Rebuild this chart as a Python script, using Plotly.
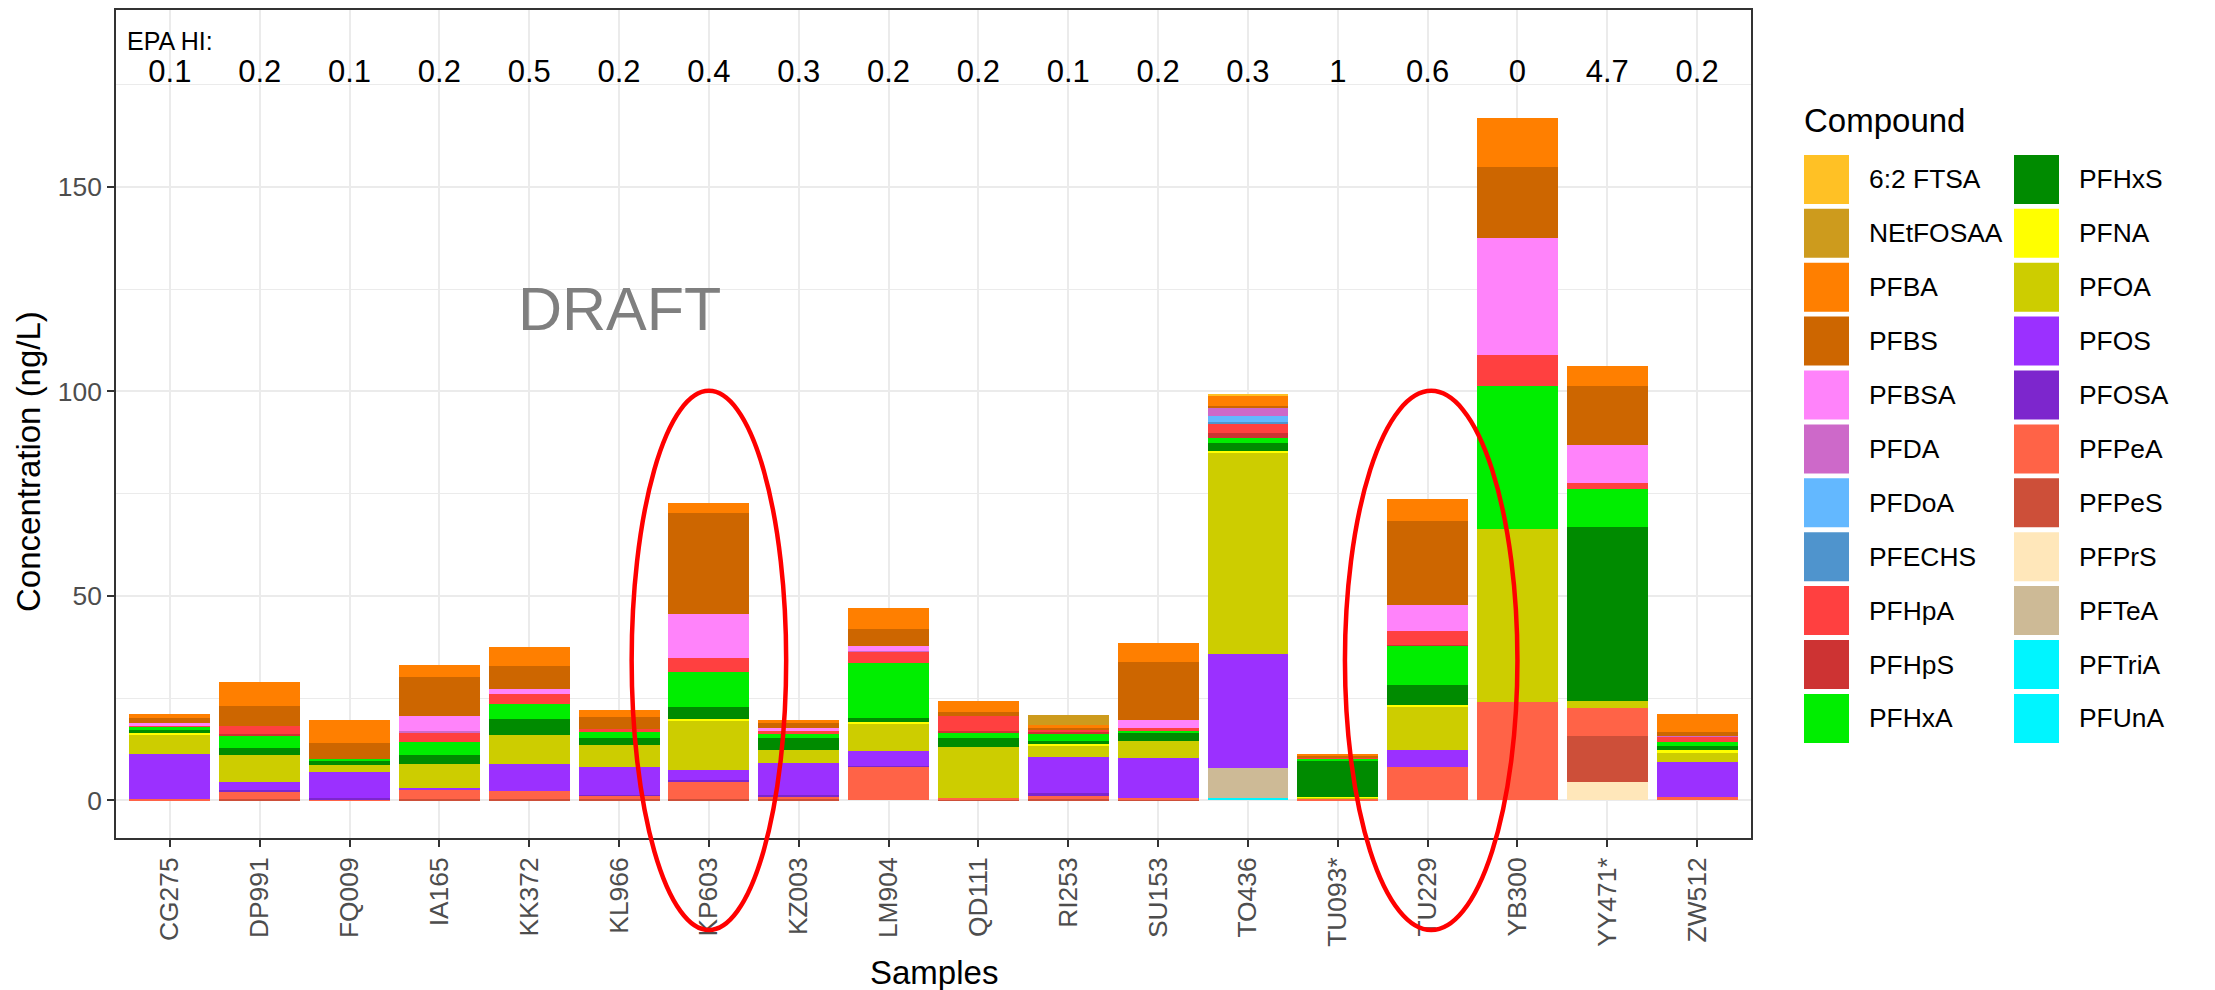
import plotly.graph_objects as go

# Samples (x categories) and the EPA hazard index printed above each bar
samples = ["CG275", "DP991", "FQ009", "IA165", "KK372", "KL966", "KP603", "KZ003", "LM904",
           "QD111", "RI253", "SU153", "TO436", "TU093*", "TU229", "YB300", "YY471*", "ZW512"]
hazard_index = ["0.1", "0.2", "0.1", "0.2", "0.5", "0.2", "0.4", "0.3", "0.2",
                "0.2", "0.1", "0.2", "0.3", "1", "0.6", "0", "4.7", "0.2"]

# Compound levels (legend order; first level sits on top of each stack) and fills
compounds = ["6:2 FTSA", "NEtFOSAA", "PFBA", "PFBS", "PFBSA", "PFDA", "PFDoA", "PFECHS",
             "PFHpA", "PFHpS", "PFHxA", "PFHxS", "PFNA", "PFOA", "PFOS", "PFOSA",
             "PFPeA", "PFPeS", "PFPrS", "PFTeA", "PFTriA", "PFUnA"]
colors = ["#FFC125", "#CD9B1D", "#FF7F00", "#CD6600", "#FF83FA", "#CD69C9", "#63B8FF", "#4F94CD",
          "#FF4040", "#CD3333", "#00EE00", "#008B00", "#FFFF00", "#CDCD00", "#9B30FF", "#7D26CD",
          "#FF6347", "#CD4F39", "#FFE7BA", "#CDBA96", "#00F5FF", "#00F5FF"]

# Concentrations (ng/L), one value per sample in the order of `samples`
ftsa_62  = [0, 0, 0, 0, 0, 0, 0, 0, 0, 0, 0, 0, 0.3, 0, 0, 0, 0, 0]
netfosaa = [0, 0, 0, 0, 0, 0, 0, 0, 0, 0, 2.4, 0, 0, 0, 0, 0, 0, 0]
pfba     = [0.8, 6.0, 5.8, 3.1, 4.6, 1.8, 2.5, 0.6, 5.2, 2.8, 0.8, 4.7, 2.5, 0.5, 5.2, 12.1, 4.9, 4.2]
pfbs     = [1.4, 4.8, 3.8, 9.4, 5.7, 2.9, 24.6, 1.4, 4.2, 0.9, 0.3, 14.0, 0.4, 0.3, 20.7, 17.3, 14.6, 1.05]
pfbsa    = [0.4, 0, 0, 3.8, 1.1, 0, 10.7, 0.65, 1.1, 0, 0, 2.0, 0, 0, 6.4, 28.6, 9.2, 0]
pfda     = [0, 0, 0, 0.5, 0, 0, 0, 0, 0.3, 0, 0, 0, 2.0, 0, 0, 0, 0, 0.25]
pfdoa    = [0, 0, 0, 0, 0, 0, 0, 0, 0, 0, 0, 0, 1.4, 0, 0, 0, 0, 0]
pfechs   = [0, 0, 0, 0, 0, 0, 0, 0, 0, 0, 0, 0, 0.6, 0, 0, 0, 0, 0]
pfhpa    = [0.5, 2.0, 0, 2.1, 2.6, 0.7, 3.4, 0.65, 2.7, 3.75, 0.65, 0.7, 2.3, 0.3, 3.2, 7.5, 1.6, 1.15]
pfhps    = [0, 0.3, 0, 0, 0, 0, 0, 0, 0, 0.3, 0.3, 0, 1.2, 0, 0.3, 0, 0, 0]
pfhxa    = [0.6, 3.0, 0.5, 3.2, 3.5, 1.4, 8.7, 1.1, 13.4, 1.3, 1.8, 0.65, 1.1, 0.4, 9.5, 35.1, 9.2, 1.05]
pfhxs    = [0.9, 1.7, 1.0, 2.1, 4.1, 1.7, 2.9, 2.9, 1.1, 2.2, 0.9, 1.8, 2.0, 8.9, 5.1, 0, 42.5, 1.0]
pfna     = [0.3, 0, 0, 0, 0, 0, 0.25, 0, 0.5, 0, 0.3, 0, 0.4, 0.3, 0.3, 0, 0, 0.65]
pfoa     = [4.7, 6.7, 1.6, 6.0, 7.0, 5.5, 12.2, 3.2, 6.6, 12.5, 2.8, 4.2, 49.1, 0.2, 10.5, 42.2, 1.8, 2.2]
pfos     = [11.1, 2.0, 6.5, 0.25, 6.6, 6.7, 2.45, 7.9, 3.5, 0, 8.8, 9.8, 28.1, 0, 4.2, 0, 0, 8.65]
pfosa    = [0, 0.3, 0.3, 0, 0, 0.3, 0.3, 0.3, 0.3, 0, 0.7, 0, 0, 0, 0, 0, 0, 0]
pfpea    = [0.3, 1.9, 0.25, 2.3, 1.9, 0.8, 4.25, 0.6, 8.2, 0.3, 0.8, 0.3, 0, 0.4, 8.2, 24.1, 6.7, 0.8]
pfpes    = [0, 0.3, 0, 0.4, 0.4, 0.3, 0.4, 0.3, 0, 0.3, 0.3, 0.3, 0, 0, 0, 0, 11.4, 0]
pfprs    = [0, 0, 0, 0, 0, 0, 0, 0, 0, 0, 0, 0, 0, 0, 0, 0, 4.4, 0]
pftea    = [0, 0, 0, 0, 0, 0, 0, 0, 0, 0, 0, 0, 7.25, 0, 0, 0, 0, 0]
pftria   = [0, 0, 0, 0, 0, 0, 0, 0, 0, 0, 0, 0, 0, 0, 0, 0, 0, 0]
pfuna    = [0, 0, 0, 0, 0, 0, 0, 0, 0, 0, 0, 0, 0.55, 0, 0, 0, 0, 0]

series = [ftsa_62, netfosaa, pfba, pfbs, pfbsa, pfda, pfdoa, pfechs, pfhpa, pfhps, pfhxa,
          pfhxs, pfna, pfoa, pfos, pfosa, pfpea, pfpes, pfprs, pftea, pftria, pfuna]

# Figure geometry (pixels) and axis ranges
W, H = 2215, 990
M_L, M_R, M_T, M_B = 116, 464, 10, 152
PW, PH = W - M_L - M_R, H - M_T - M_B
X_RANGE = [-0.6, len(samples) - 0.4]
Y_RANGE = [-9.2, 193.2]
HI_LABEL_Y = 177.5
HI_TITLE_Y = 185.6
FONT = "Liberation Sans, Arial, sans-serif"


def px_x(px):
    return (px - M_L) / PW


def px_y(py):
    return (H - M_B - py) / PH


def data_x(ix):
    return (ix - X_RANGE[0]) / (X_RANGE[1] - X_RANGE[0])


def data_y(v):
    return (v - Y_RANGE[0]) / (Y_RANGE[1] - Y_RANGE[0])


fig = go.Figure()

# Stacked bars: last level at the bottom, so add traces in reverse level order
for name, col, vals in reversed(list(zip(compounds, colors, series))):
    fig.add_trace(go.Bar(
        x=samples, y=vals, name=name, width=0.9,
        marker=dict(color=col, line=dict(width=0)),
        showlegend=False,
        hovertemplate="%{x}<br>" + name + ": %{y} ng/L<extra></extra>",
    ))

# Hazard index values above the bars
fig.add_trace(go.Scatter(
    x=samples, y=[HI_LABEL_Y] * len(samples), mode="text", text=hazard_index,
    textfont=dict(family=FONT, size=31, color="black"),
    showlegend=False, hoverinfo="skip", cliponaxis=False,
))

annotations = [
    dict(x=-0.5, y=HI_TITLE_Y, xref="x", yref="y", text="EPA HI:", showarrow=False,
         xanchor="left", yanchor="middle", font=dict(family=FONT, size=25, color="black")),
    dict(x=5, y=120, xref="x", yref="y", text="DRAFT", showarrow=False,
         xanchor="center", yanchor="middle", font=dict(family=FONT, size=61, color="#7F7F7F")),
    dict(x=0.5, y=px_y(972), xref="paper", yref="paper", text="Samples", showarrow=False,
         xanchor="center", yanchor="middle", font=dict(family=FONT, size=33, color="black")),
    dict(x=px_x(28), y=px_y(462), xref="paper", yref="paper", text="Concentration (ng/L)",
         showarrow=False, textangle=-90, xanchor="center", yanchor="middle",
         font=dict(family=FONT, size=33, color="black")),
    dict(x=px_x(1802), y=px_y(120), xref="paper", yref="paper", text="Compound",
         showarrow=False, xanchor="left", yanchor="middle",
         font=dict(family=FONT, size=33, color="black")),
]

shapes = []

# Legend drawn as key rectangles plus labels, two columns of eleven
KEY_W, KEY_H, ROW_PITCH, FIRST_ROW = 45, 49, 53.9, 179.4
COL_KEY_X = [1804, 2014]
COL_TXT_X = [1867, 2077]
for i, (name, col) in enumerate(zip(compounds, colors)):
    c, r = divmod(i, 11)
    cy = FIRST_ROW + r * ROW_PITCH
    shapes.append(dict(type="rect", xref="paper", yref="paper",
                       x0=px_x(COL_KEY_X[c]), x1=px_x(COL_KEY_X[c] + KEY_W),
                       y0=px_y(cy + KEY_H / 2), y1=px_y(cy - KEY_H / 2),
                       fillcolor=col, line=dict(width=0), layer="above"))
    annotations.append(dict(x=px_x(COL_TXT_X[c]), y=px_y(cy), xref="paper", yref="paper",
                            text=name, showarrow=False, xanchor="left", yanchor="middle",
                            font=dict(family=FONT, size=26.4, color="black")))

# Highlight ellipses around KP603 and TU229 (extend below the panel)
for cx, half_w in [(6.0, 0.86), (14.04, 0.96)]:
    shapes.append(dict(type="circle", xref="paper", yref="paper",
                       x0=data_x(cx - half_w), x1=data_x(cx + half_w),
                       y0=data_y(-31.7), y1=data_y(100.1),
                       line=dict(color="#FF0000", width=4.5), layer="above"))

axis_common = dict(
    showline=True, linecolor="#333333", linewidth=1.6, mirror=True,
    ticks="outside", ticklen=7, tickwidth=1.6, tickcolor="#333333",
    gridcolor="#EBEBEB", gridwidth=2.2, zeroline=False,
    tickfont=dict(family=FONT, size=26.4, color="#4D4D4D"),
)

fig.update_layout(
    width=W, height=H,
    margin=dict(l=M_L, r=M_R, t=M_T, b=M_B, autoexpand=False),
    paper_bgcolor="white", plot_bgcolor="white",
    barmode="stack",
    showlegend=False,
    annotations=annotations,
    shapes=shapes,
    xaxis=dict(type="category", range=X_RANGE, tickangle=-90,
               categoryorder="array", categoryarray=samples, **axis_common),
    yaxis=dict(range=Y_RANGE, tickvals=[0, 50, 100, 150],
               minor=dict(tickvals=[25, 75, 125, 175], showgrid=True,
                          gridcolor="#EBEBEB", gridwidth=1.1, ticks=""),
               **axis_common),
    font=dict(family=FONT),
)

fig.write_html("out.html")
